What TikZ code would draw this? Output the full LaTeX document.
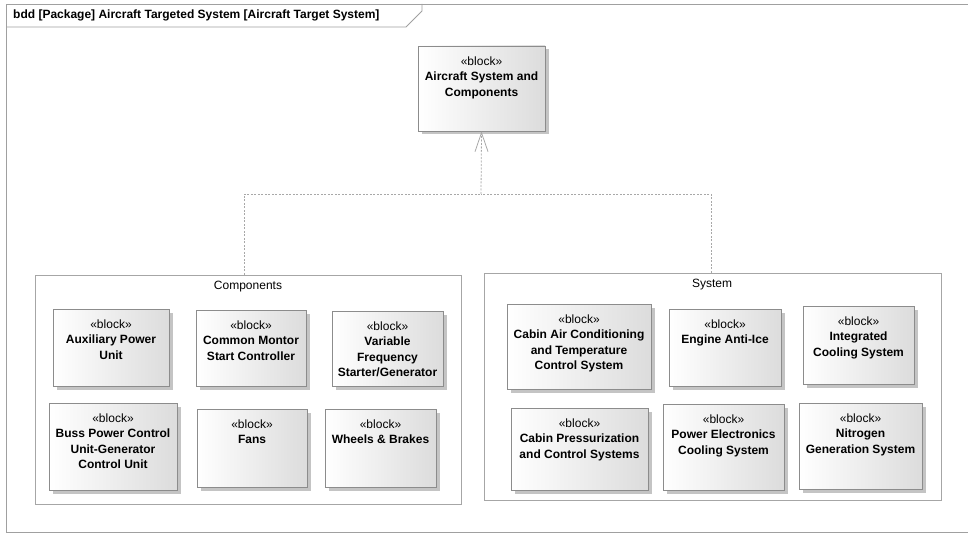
\documentclass[tikz,border=0pt]{standalone}
\usepackage{fontspec}
\setmainfont{Liberation Sans}
\usetikzlibrary{arrows.meta,shadows,fit}

\definecolor{frameline}{HTML}{A0A0A0}
\definecolor{pkgline}{HTML}{A6A6A6}
\definecolor{blockline}{HTML}{8C8C8C}
\definecolor{blockshade}{HTML}{DCDCDC}
\definecolor{shadowgray}{HTML}{C4C4C4}
\definecolor{depline}{HTML}{A8A8A8}

\tikzset{
  framepath/.style={draw=frameline, line width=0.9pt},
  pkgbox/.style={draw=pkgline, line width=0.9pt, fill=white, inner sep=0pt},
  blockbox/.style={draw=blockline, line width=0.9pt, inner sep=0pt,
    left color=white, right color=blockshade,
    drop shadow={shadow xshift=3.5pt, shadow yshift=-3.5pt, fill=shadowgray, opacity=1}},
  blocktext/.style={align=center, inner sep=0pt, anchor=north,
    font=\fontsize{12}{15.5}\selectfont\bfseries},
  pkgtext/.style={inner sep=0pt, font=\fontsize{12}{14}\selectfont},
  generalization/.style={draw=depline, line width=0.8pt, dash pattern=on 2pt off 1.5pt},
  genhead/.style={-{Straight Barb[length=19pt,width=13pt,line width=0.8pt]}, draw=depline}
}

% block: name, x1, y1, x2, y2, bold title lines
\newcommand\sysmlblock[6]{%
  \node[blockbox, fit={(#2,#3) (#4,#5)}] (#1) {};
  \node[blocktext] (#1-text) at ([yshift=-11pt]#1.north) {\mdseries«block»\\#6};
}

\begin{document}
\begin{tikzpicture}[x=1pt,y=-1pt]
\useasboundingbox (0,0) rectangle (968,534);

% diagram frame with its heading tab
\draw[framepath] (968,4) -- (6,4) -- (6,532) -- (968,532);
\draw[framepath] (6,27) -- (406,27) -- (422,11) -- (422,4);
\node[pkgtext, anchor=west, font=\fontsize{12}{14}\selectfont\bfseries] (title) at (13,15)
  {bdd [Package] Aircraft Targeted System [Aircraft Target System]};

% the two packages
\node[pkgbox, fit={(35,275) (461,504)}] (comp) {};
\node[pkgtext] (complabel) at (248,287) {Components};
\node[pkgbox, fit={(484,273) (941,500)}] (sys) {};
\node[pkgtext] (syslabel) at (712,285) {System};

% parent block
\sysmlblock{top}{418}{46}{545}{131}{Aircraft System and\\Components}

% generalization tree
\coordinate (join) at (481,194);
\draw[generalization] ([xshift=-4pt]comp.north) |- (join);
\draw[generalization] ([xshift=-1.5pt]sys.north) |- (join);
\draw[generalization] (join) -- (top.south);
\draw[genhead] ([yshift=-2pt]top.south) -- (top.south);

% blocks of the Components package
\sysmlblock{apu}{53}{309}{169}{386}{Auxiliary Power\\Unit}
\sysmlblock{cmsc}{196}{310}{306}{386}{Common Montor\\Start Controller}
\sysmlblock{vfsg}{332}{311}{443}{386}{Variable\\Frequency\\Starter/Generator}
\sysmlblock{bpcu}{49}{403}{177}{490}{Buss Power Control\\Unit-Generator\\Control Unit}
\sysmlblock{fans}{197}{409}{307}{487}{Fans}
\sysmlblock{wheels}{325}{409}{436}{487}{Wheels \& Brakes}

% blocks of the System package
\sysmlblock{cac}{507}{304}{651}{389}{Cabin Air Conditioning\\and Temperature\\Control System}
\sysmlblock{eai}{669}{309}{781}{386}{Engine Anti-Ice}
\sysmlblock{ics}{803}{306}{914}{384}{Integrated\\Cooling System}
\sysmlblock{cpcs}{511}{408}{648}{490}{Cabin Pressurization\\and Control Systems}
\sysmlblock{pecs}{663}{404}{784}{490}{Power Electronics\\Cooling System}
\sysmlblock{ngs}{799}{403}{922}{489}{Nitrogen\\Generation System}
\end{tikzpicture}
\end{document}
